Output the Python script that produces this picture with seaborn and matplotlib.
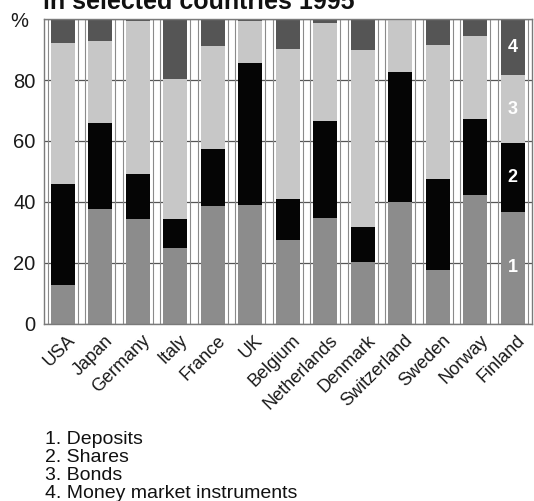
import numpy as np
import matplotlib
matplotlib.use("Agg")
import matplotlib.pyplot as plt
import matplotlib.transforms as mtransforms
import seaborn as sns

# Composition of household financial assets (% of total)
countries = ["USA", "Japan", "Germany", "Italy", "France", "UK", "Belgium",
             "Netherlands", "Denmark", "Switzerland", "Sweden", "Norway", "Finland"]
deposits = [12.8, 37.7, 34.4, 24.9, 38.6, 38.8, 27.4, 34.8, 20.2, 39.9, 17.5, 42.4, 36.6]
shares   = [32.9, 28.3, 14.6,  9.5, 18.9, 46.9, 13.4, 31.8, 11.6, 42.8, 30.1, 24.9, 22.6]
bonds    = [46.6, 26.9, 50.4, 46.1, 33.7, 13.7, 49.6, 32.3, 58.1, 17.3, 43.8, 27.2, 22.5]
money_market = [7.7, 7.1, 0.6, 19.5, 8.8, 0.6, 9.6, 1.1, 10.1, 0.0, 8.6, 5.5, 18.3]

series_names = ["Deposits", "Shares", "Bonds", "Money market instruments"]
series_colors = ["#8c8c8c", "#050505", "#c7c7c7", "#555555"]
y_ticks = [0, 20, 40, 60, 80, 100]
y_tick_labels = ["0", "20", "40", "60", "80", "%"]
title = "in selected countries 1995"

sns.set_theme(style="white")
plt.rcParams["font.family"] = ["Liberation Sans", "DejaVu Sans"]

fig = plt.figure(figsize=(5.34, 5.01), dpi=100)
ax = fig.add_axes([44 / 534, 1 - 323.5 / 501, 487.5 / 534, 304.2 / 501])

stack = np.array([deposits, shares, bonds, money_market])
cum = np.cumsum(stack, axis=0)
total = cum[-1]

# thin outline frame around each column
sns.barplot(x=countries, y=total, order=countries, fill=False, color="#8a8a8a",
            width=0.8, linewidth=0.8, errorbar=None, ax=ax, zorder=1)
for p in ax.patches:
    p.set_facecolor("none")
    p.set_edgecolor("#8a8a8a")

# stacked segments, drawn from the top of the stack downwards
for level in range(len(series_names) - 1, -1, -1):
    sns.barplot(x=countries, y=cum[level], order=countries, color=series_colors[level],
                saturation=1, width=0.64, linewidth=0, errorbar=None, ax=ax, zorder=2)

ax.set_xlim(-0.5, len(countries) - 0.5)
ax.set_ylim(0, 100)
ax.set_yticks(y_ticks)
ax.set_yticklabels(y_tick_labels)
ax.set_xlabel("")
ax.set_ylabel("")
ax.set_axisbelow(True)
ax.yaxis.grid(True, color="#555555", linewidth=0.9)
ax.xaxis.grid(False)
for s in ax.spines.values():
    s.set_visible(True)
    s.set_color("#7a7a7a")
    s.set_linewidth(1.0)
ax.tick_params(axis="both", length=0, colors="#1a1a1a")
ax.tick_params(axis="y", pad=6, labelsize=14.5)
ax.tick_params(axis="x", pad=6, labelsize=13)
shift = mtransforms.ScaledTranslation(4 / 100, 0, fig.dpi_scale_trans)
for lab in ax.get_xticklabels():
    lab.set_rotation(45)
    lab.set_ha("right")
    lab.set_rotation_mode("anchor")
    lab.set_transform(lab.get_transform() + shift)

# the unit sign sits a little left of the numeric labels
pct_shift = mtransforms.ScaledTranslation(-7 / 100, 0, fig.dpi_scale_trans)
pct_label = ax.get_yticklabels()[-1]
pct_label.set_transform(pct_label.get_transform() + pct_shift)

# series numbers inside the last column
last = len(countries) - 1
bottoms = np.concatenate([[0], cum[:-1, last]])
for i in range(len(series_names)):
    mid = bottoms[i] + stack[i, last] / 2
    ax.text(last, mid, str(i + 1), color="white", fontsize=13, fontweight="bold",
            ha="center", va="center", zorder=3)

fig.text(43 / 534, 1 - 9 / 501, title, fontsize=18, fontweight="bold",
         ha="left", va="baseline", color="#111111")

for i, name in enumerate(series_names):
    fig.text(45 / 534, 1 - (443.5 + 18 * i) / 501, f"{i + 1}. {name}",
             fontsize=14, ha="left", va="baseline", color="#111111")

fig.savefig("out.png", dpi=100)
